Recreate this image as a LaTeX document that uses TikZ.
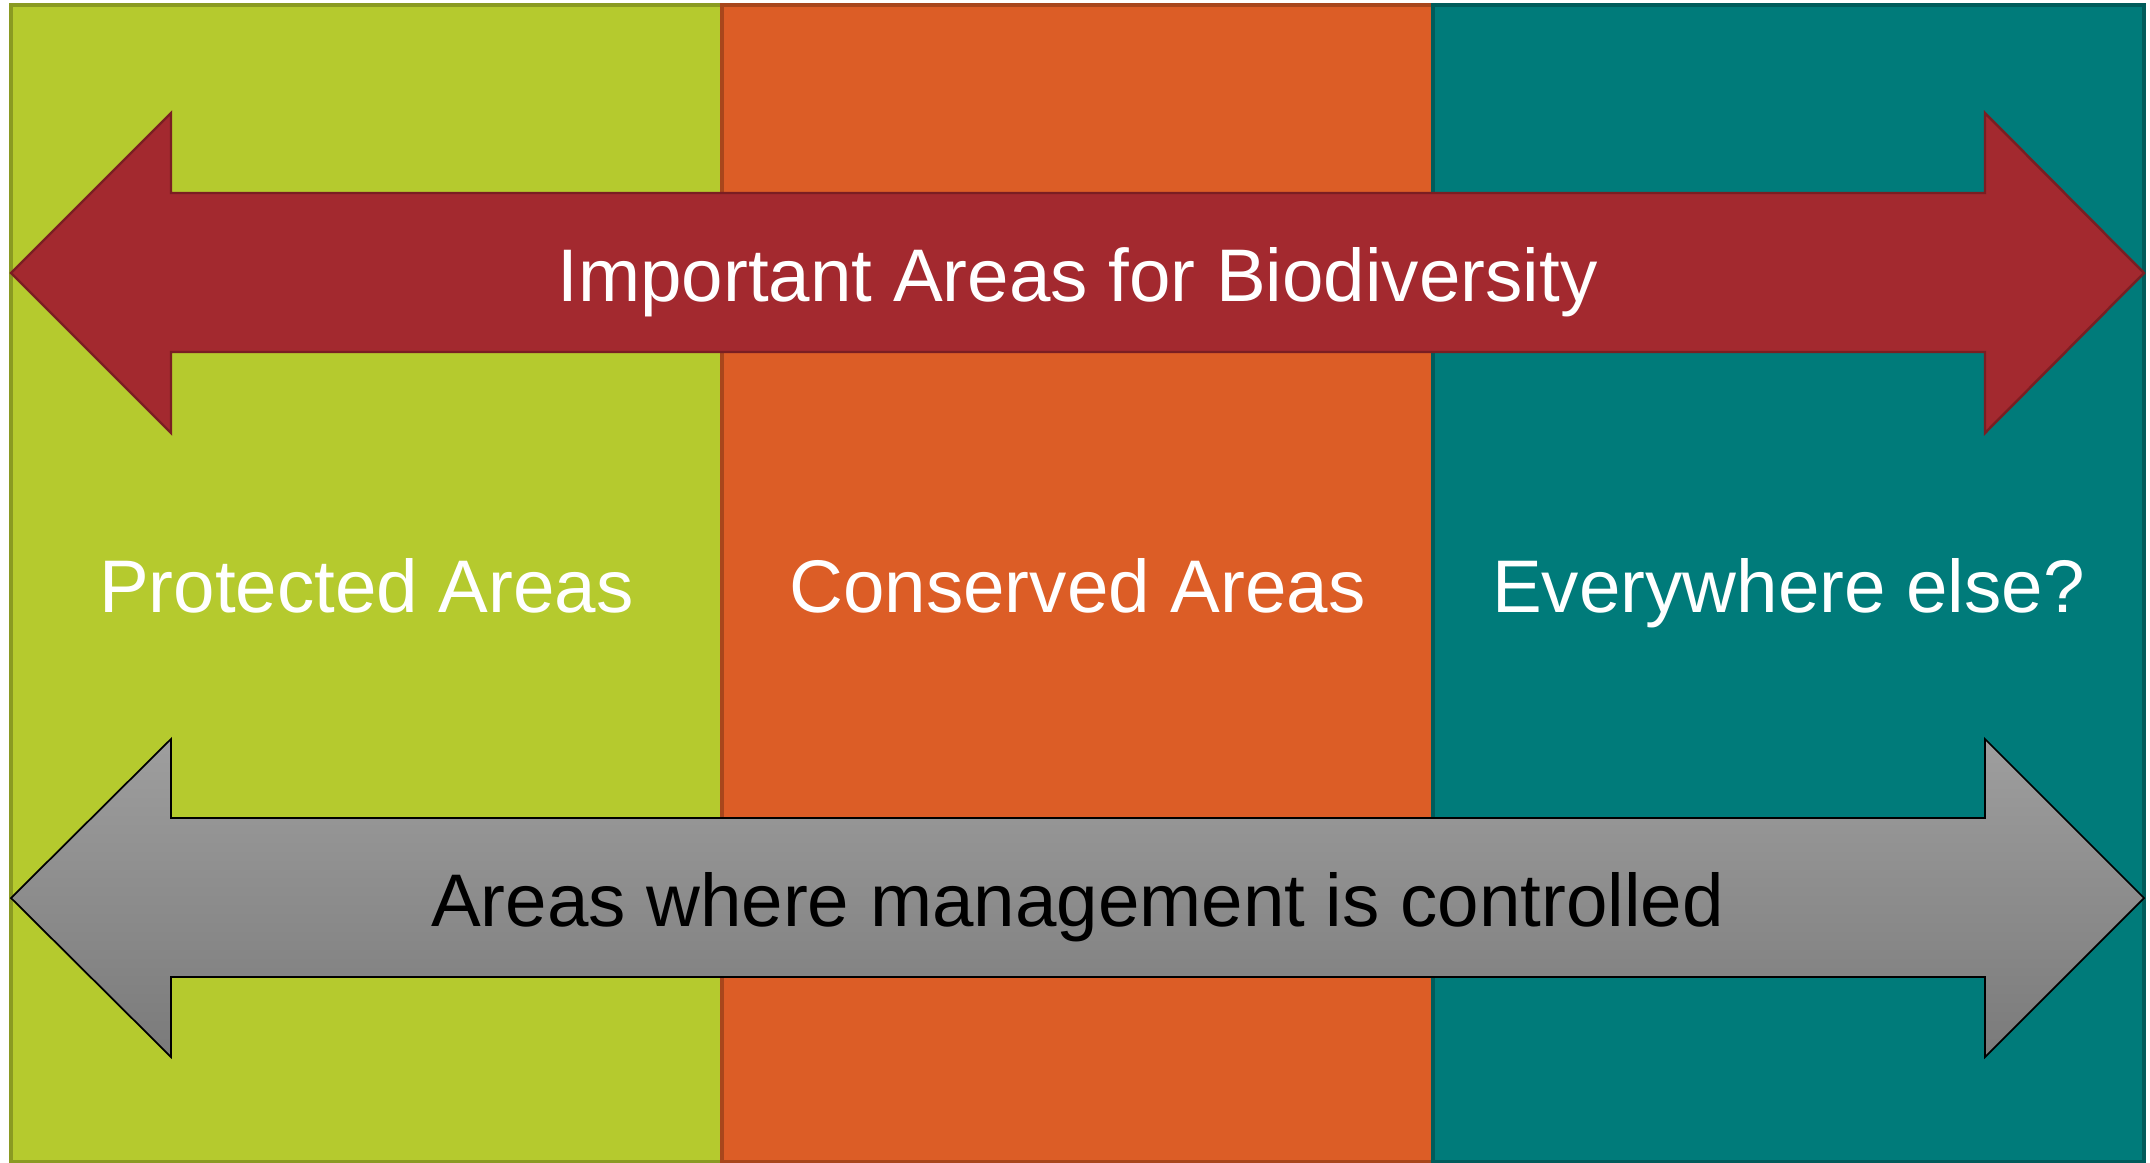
\documentclass[tikz,border=0pt]{standalone}
\usepackage{fontspec}
\setmainfont{Liberation Sans}
\usetikzlibrary{positioning}
\definecolor{leaf}{HTML}{B5CA2E}
\definecolor{leafline}{HTML}{8A9A22}
\definecolor{rust}{HTML}{DC5D26}
\definecolor{rustline}{HTML}{A8461C}
\definecolor{sea}{HTML}{007B7A}
\definecolor{sealine}{HTML}{005C5B}
\definecolor{wine}{HTML}{A3292F}
\definecolor{wineline}{HTML}{7A1E22}
\tikzset{
  label/.style={anchor=base,font=\fontsize{21.2}{26}\selectfont},
  column/.style={line width=0.9pt},
}
\begin{document}
\begin{tikzpicture}[x=0.01cm,y=-0.01cm]
\useasboundingbox (0,0) rectangle (2150,1163);
\fill[white] (0,0) rectangle (2150,1163);
% three columns
\draw[column,leafline,fill=leaf] (11,5) rectangle (722,1162);
\draw[column,rustline,fill=rust] (722,5) rectangle (1433,1162);
\draw[column,sealine,fill=sea] (1433,5) rectangle (2144,1162);
% top arrow
\draw[wineline,fill=wine,line width=0.7pt] (11,273) -- (171,113) -- (171,193) -- (1985,193) -- (1985,113)
    -- (2144,273) -- (1985,433) -- (1985,352) -- (171,352) -- (171,433) -- cycle;
% bottom arrow
\draw[black,line width=0.5pt,top color=black!38,bottom color=black!52] (11,898) -- (171,739) -- (171,818) -- (1985,818) -- (1985,739)
    -- (2144,898) -- (1985,1057) -- (1985,977) -- (171,977) -- (171,1057) -- cycle;
\node[label,white] (biodiv) at (1077.5,301) {Important Areas for Biodiversity};
\node[label,white] (protected) at (366.5,612) {Protected Areas};
\node[label,white] (conserved) at (1077.5,612) {Conserved Areas};
\node[label,white] (elsewhere) at (1788.5,612) {Everywhere else?};
\node[label,black] (managed) at (1077.5,926) {Areas where management is controlled};
\end{tikzpicture}
\end{document}
